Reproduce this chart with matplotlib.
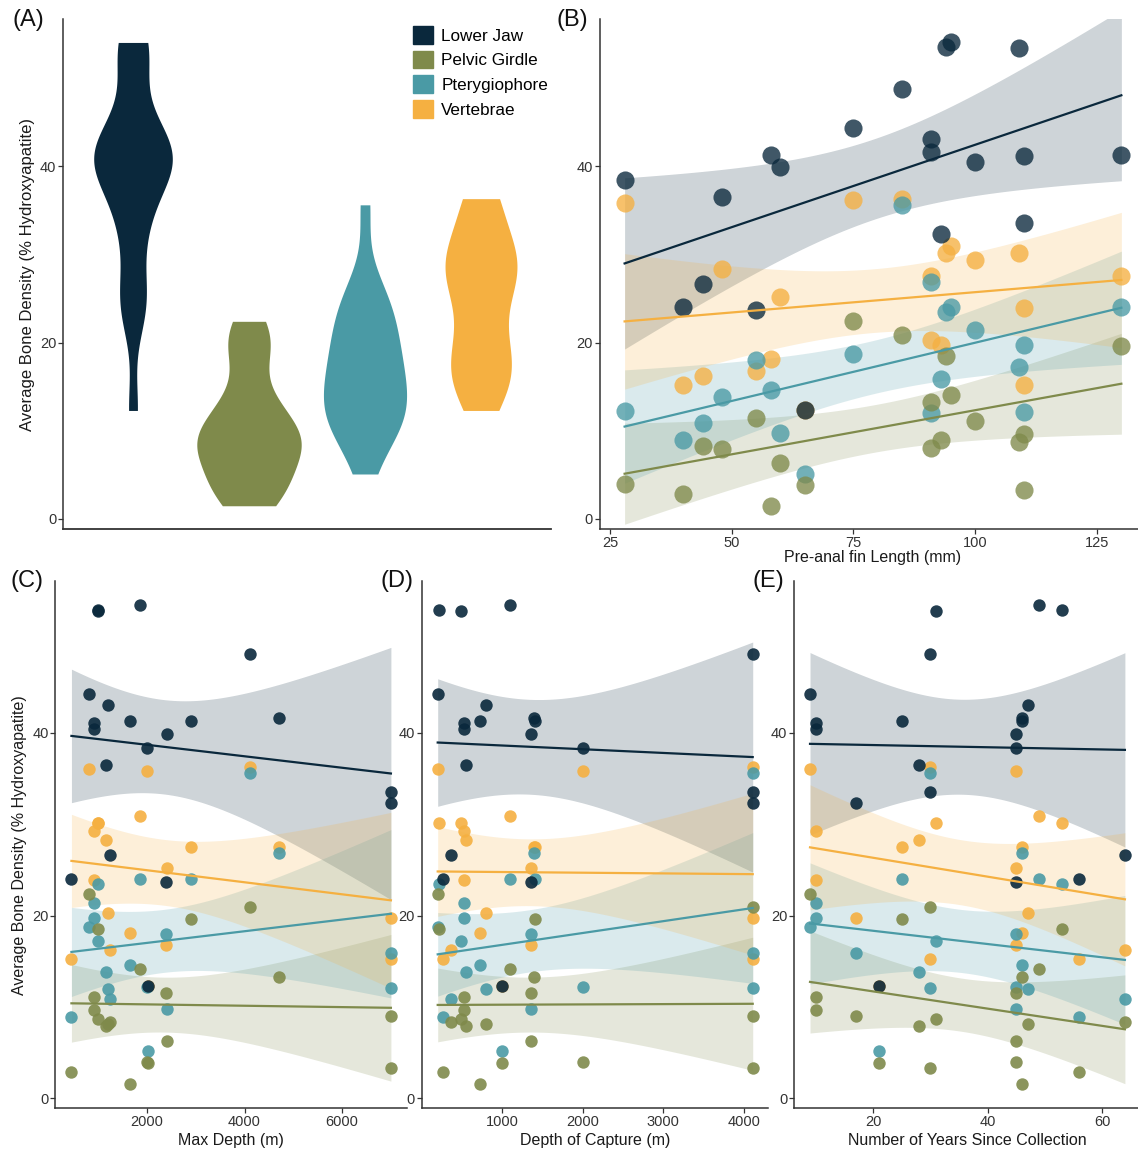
import matplotlib
matplotlib.use("Agg")
import matplotlib.pyplot as plt
from matplotlib.patches import Patch
import numpy as np

plt.rcParams['font.family'] = ['Liberation Sans', 'DejaVu Sans']

# one row per specimen
bones = ['Lower Jaw', 'Pelvic Girdle', 'Pterygiophore', 'Vertebrae']
colors = ['#0a283c', '#7f8a4b', '#4a9aa5', '#f5b041']

lower_jaw = [38.4, 24.0, 26.6, 36.5, 23.7, 41.3, 39.9, 12.3, 44.3, 48.7,
             43.1, 41.6, 32.3, 53.5, 54.0, 40.4, 53.4, 41.1, 33.5, 41.3]
pelvic_girdle = [4.0, 2.8, 8.3, 7.9, 11.5, 1.5, 6.3, 3.8, 22.4, 20.9,
                 8.1, 13.3, 9.0, 18.5, 14.1, 11.1, 8.7, 9.6, 3.3, 19.6]
pterygiophore = [12.2, 8.9, 10.9, 13.8, 18.0, 14.6, 9.75, 5.1, 18.7, 35.6,
                 12.0, 26.9, 15.9, 23.5, 24.0, 21.4, 17.2, 19.7, 12.1, 24.0]
vertebrae = [35.8, 15.2, 16.2, 28.3, 16.8, 18.1, 25.2, 12.3, 36.1, 36.3,
             20.3, 27.5, 19.7, 30.1, 30.9, 29.3, 30.1, 23.9, 15.2, 27.5]

preanal_length = [28, 40, 44, 48, 55, 58, 60, 65, 75, 85,
                  91, 91, 93, 94, 95, 100, 109, 110, 110, 130]
max_depth = [2007, 450, 1239, 1163, 2394, 1654, 2401, 2014, 803, 4104,
             1197, 4699, 7003, 1003, 1862, 907, 1003, 907, 7003, 2900]
capture_depth = [2003, 270, 369, 558, 1359, 723, 1363, 1004, 203, 4108,
                 798, 1392, 4108, 224, 1095, 525, 496, 525, 4108, 1413]
years_since = [45, 56, 64, 28, 45, 46, 45, 21, 9, 30,
               47, 46, 17, 53, 49, 10, 31, 10, 30, 25]

density = [lower_jaw, pelvic_girdle, pterygiophore, vertebrae]
ylab = 'Average Bone Density (% Hydroxyapatite)'

W, H = 1138, 1151
fig = plt.figure(figsize=(W / 100, H / 100), dpi=100)


def expand(v, m=0.05):
    lo, hi = min(v), max(v)
    d = (hi - lo) * m
    return lo - d, hi + d


def span(lims, v1, p1, v2, p2):
    s = (p2 - p1) / (v2 - v1)
    return p1 + (lims[0] - v1) * s, p1 + (lims[1] - v1) * s


def make_ax(xlims, xref, ylims, yref):
    l, r = span(xlims, *xref)
    b, t = span(ylims, *yref)
    ax = fig.add_axes([l / W, 1 - b / H, (r - l) / W, (b - t) / H])
    ax.set_xlim(xlims)
    ax.set_ylim(ylims)
    for s in ['top', 'right']:
        ax.spines[s].set_visible(False)
    for s in ['left', 'bottom']:
        ax.spines[s].set_color('#333333')
        ax.spines[s].set_linewidth(1.1)
    ax.tick_params(length=3.5, width=0.9, color='#333333', labelcolor='#333333',
                   labelsize=10.5, pad=1.5)
    ax.set_yticks([0, 20, 40])
    return ax


def smooth(ax, x, y, color):
    x = np.asarray(x, float)
    y = np.asarray(y, float)
    n = len(x)
    b, a = np.polyfit(x, y, 1)
    xs = np.linspace(x.min(), x.max(), 80)
    fit = a + b * xs
    s = np.sqrt(np.sum((y - (a + b * x)) ** 2) / (n - 2))
    sxx = np.sum((x - x.mean()) ** 2)
    se = s * np.sqrt(1 / n + (xs - x.mean()) ** 2 / sxx)
    t = 2.1009  # t(0.975, 18)
    ax.fill_between(xs, fit - t * se, fit + t * se, color=color, alpha=0.2, lw=0)
    ax.plot(xs, fit, color=color, lw=1.6)


all_y = sum(density, [])
ylims = expand(all_y)
top_ref = (0, 519, 40, 166)
bot_ref = (0, 1098, 40, 733)

# (A) violins
axA = make_ax((0.4, 4.6), (1, 133, 4, 481), ylims, top_ref)
axA.set_xticks([])
axA.spines['bottom'].set_linewidth(1.3)


def kde(v, grid):
    v = np.asarray(v, float)
    n = len(v)
    iqr = np.subtract(*np.percentile(v, [75, 25]))
    bw = 0.9 * min(v.std(ddof=1), iqr / 1.34) * n ** -0.2
    z = (grid[:, None] - v[None, :]) / bw
    return np.exp(-0.5 * z ** 2).sum(1) / (n * bw * np.sqrt(2 * np.pi))


grids = [np.linspace(min(v), max(v), 512) for v in density]
dens = [kde(v, g) for v, g in zip(density, grids)]
dmax = max(d.max() for d in dens)
for i, (g, d) in enumerate(zip(grids, dens)):
    w = 0.45 * d / dmax
    axA.fill_betweenx(g, i + 1 - w, i + 1 + w, color=colors[i], lw=0)
axA.set_ylabel(ylab, fontsize=12, color='#1a1a1a', labelpad=4)
axA.legend([Patch(color=c) for c in colors], bones, loc='upper left',
           bbox_to_anchor=(413 / W, 1 - 26 / H), bbox_transform=fig.transFigure,
           frameon=False, fontsize=12.3, handlelength=1.15, handleheight=1.2,
           handletextpad=0.5, labelspacing=0.42, borderpad=0, borderaxespad=0)

# scatter panels
panels = [
    ('B', preanal_length, 'Pre-anal fin Length (mm)', (25, 610, 125, 1097), top_ref, 170, 0.78, [25, 50, 75, 100, 125]),
    ('C', max_depth, 'Max Depth (m)', (2000, 147, 6000, 342), bot_ref, 80, 0.9, [2000, 4000, 6000]),
    ('D', capture_depth, 'Depth of Capture (m)', (1000, 502, 4000, 744), bot_ref, 80, 0.9, [1000, 2000, 3000, 4000]),
    ('E', years_since, 'Number of Years Since Collection', (20, 873, 60, 1102), bot_ref, 80, 0.9, [20, 40, 60]),
]
axes = {}
for name, xv, xlabel, xref, yref, size, alpha, xticks in panels:
    ax = make_ax(expand(xv), xref, ylims, yref)
    for i in [3, 2, 1, 0]:
        ax.scatter(xv, density[i], s=size, color=colors[i], alpha=alpha, lw=0, zorder=2)
    for i in range(4):
        smooth(ax, xv, density[i], colors[i])
    ax.set_xticks(xticks)
    ax.set_xlabel(xlabel, fontsize=11.5, color='#1a1a1a',
                  labelpad=0 if name == 'B' else 3)
    axes[name] = ax
axes['C'].set_ylabel(ylab, fontsize=11.5, color='#1a1a1a', labelpad=4)

for lab, x, y in [('(A)', 12, 20), ('(B)', 557, 20), ('(C)', 10, 581),
                  ('(D)', 380, 581), ('(E)', 752, 581)]:
    fig.text(x / W, 1 - y / H, lab, fontsize=17, ha='left', va='center', color='#111111')

fig.savefig('out.png', dpi=100)
